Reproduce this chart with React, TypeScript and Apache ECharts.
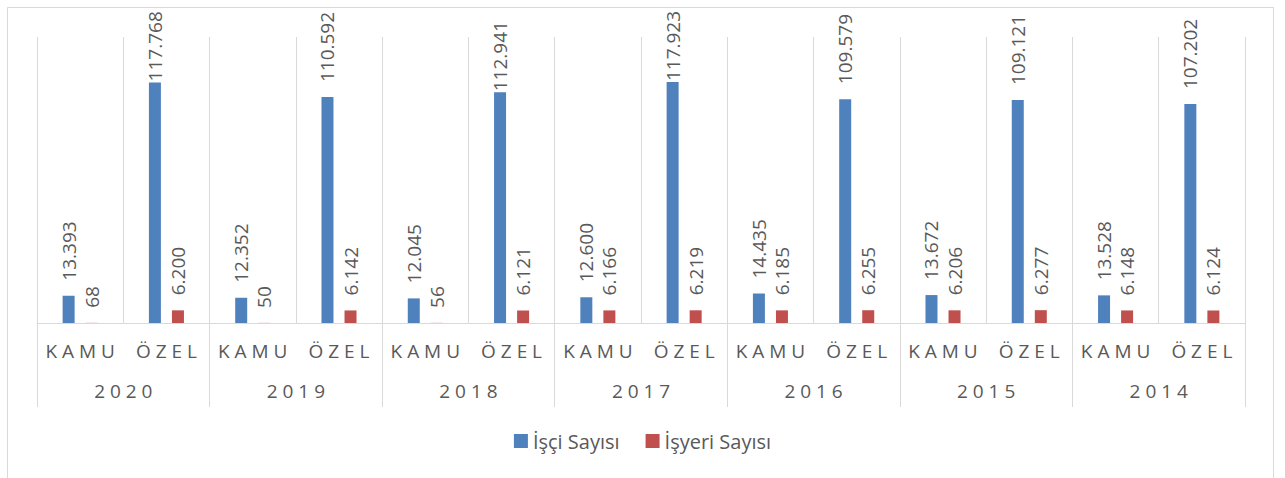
import React, { useEffect, useRef } from "react";
import * as echarts from "echarts";

const categories = ["KAMU", "ÖZEL", "KAMU", "ÖZEL", "KAMU", "ÖZEL", "KAMU", "ÖZEL", "KAMU", "ÖZEL", "KAMU", "ÖZEL", "KAMU", "ÖZEL"];
const years = ["2020", "2019", "2018", "2017", "2016", "2015", "2014"];
const isciSayisi = [13393, 117768, 12352, 110592, 12045, 112941, 12600, 117923, 14435, 109579, 13672, 109121, 13528, 107202];
const isyeriSayisi = [68, 6200, 50, 6142, 56, 6121, 6166, 6219, 6185, 6255, 6206, 6277, 6148, 6124];
const seriesNames = ["İşçi Sayısı", "İşyeri Sayısı"];

const fmt = (v: number) => String(v).replace(/\B(?=(\d{3})+(?!\d))/g, ".");
const spaced = (s: string) => s.split("").join(" ");
const FONT = "'Open Sans', 'Noto Sans', sans-serif";
const Y_MAX = 140000;

export default function App() {
  const ref = useRef<HTMLDivElement>(null);
  useEffect(() => {
    if (!ref.current) return;
    const chart = echarts.init(ref.current, undefined, { renderer: "svg" });
    const label = {
      show: true,
      position: "top" as const,
      rotate: 90,
      align: "left" as const,
      verticalAlign: "middle" as const,
      distance: 15,
      color: "#595959",
      fontSize: 19,
      fontFamily: FONT,
      formatter: (p: any) => fmt(p.value),
    };
    // labels that would run past the chart's top edge are pulled down onto the bar top
    const withFit = (arr: number[]) =>
      arr.map((v) => (v > Y_MAX * 0.8 ? { value: v, label: { distance: 1 } } : v));
    chart.setOption({
      animation: false,
      backgroundColor: "#ffffff",
      textStyle: { fontFamily: FONT },
      graphic: [
        {
          type: "rect",
          shape: { x: 7.5, y: 7.5, width: 1266, height: 500 },
          style: { fill: "none", stroke: "#d9d9d9", lineWidth: 1 },
          silent: true,
        },
      ],
      legend: {
        bottom: 22,
        left: "center",
        itemWidth: 14,
        itemHeight: 14,
        itemGap: 26,
        icon: "rect",
        textStyle: { color: "#595959", fontSize: 20, fontFamily: FONT },
        data: seriesNames,
      },
      grid: { left: 37, right: 40, top: 37, bottom: 155, containLabel: false },
      xAxis: [
        {
          type: "category",
          data: categories,
          position: "bottom",
          axisLine: { show: true, lineStyle: { color: "#d9d9d9" } },
          axisTick: { show: false },
          splitLine: { show: true, lineStyle: { color: "#d9d9d9" } },
          axisLabel: {
            interval: 0,
            margin: 18,
            color: "#595959",
            fontSize: 19,
            fontFamily: FONT,
            formatter: (v: string) => spaced(v),
          },
        },
        {
          type: "category",
          data: years,
          position: "bottom",
          axisLine: { show: false },
          axisTick: { show: true, length: 84, lineStyle: { color: "#d9d9d9" } },
          splitLine: { show: false },
          axisLabel: {
            interval: 0,
            margin: 58,
            color: "#595959",
            fontSize: 19,
            fontFamily: FONT,
            formatter: (v: string) => spaced(v),
          },
        },
      ],
      yAxis: {
        type: "value",
        min: 0,
        max: Y_MAX,
        show: false,
        splitLine: { show: false },
      },
      series: [
        {
          name: seriesNames[0],
          type: "bar",
          xAxisIndex: 0,
          data: withFit(isciSayisi),
          barWidth: 12,
          barGap: "92%",
          itemStyle: { color: "#4f81bd" },
          label,
        },
        {
          name: seriesNames[1],
          type: "bar",
          xAxisIndex: 0,
          data: withFit(isyeriSayisi),
          barWidth: 12,
          barGap: "92%",
          itemStyle: { color: "#c0504d" },
          label,
        },
      ],
    });
    return () => chart.dispose();
  }, []);
  return (
    <div
      ref={ref}
      style={{ position: "absolute", left: 0, top: 0, width: 1285, height: 478 }}
    />
  );
}
